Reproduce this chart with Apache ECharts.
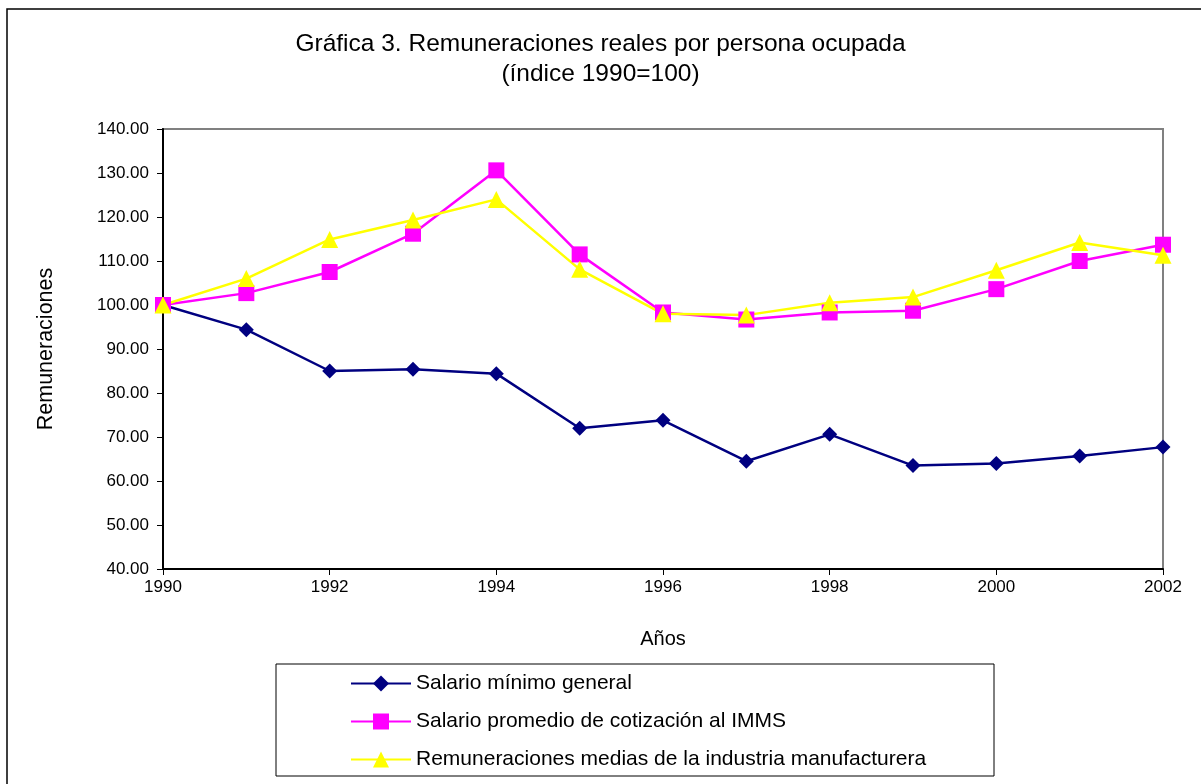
<!DOCTYPE html>
<html>
<head>
<meta charset="utf-8">
<script src="https://cdn.jsdelivr.net/npm/echarts@6/dist/echarts.min.js"></script>
<style>
html,body{margin:0;padding:0;background:#fff;}
#chart{width:1201px;height:784px;}
</style>
</head>
<body>
<div id="chart"></div>
<script>
const years = ['1990','1991','1992','1993','1994','1995','1996','1997','1998','1999','2000','2001','2002'];
const salarioMinimo = [100, 94.4, 85.0, 85.4, 84.4, 72.0, 73.8, 64.5, 70.6, 63.5, 64.0, 65.7, 67.7];
const salarioIMMS = [100, 102.7, 107.5, 116.2, 130.6, 111.5, 98.3, 96.7, 98.3, 98.7, 103.6, 110.0, 113.7];
const remManufactura = [100, 106.0, 114.9, 119.3, 124.0, 108.1, 98.0, 97.7, 100.5, 101.8, 107.9, 114.2, 111.3];
const seriesNames = ['Salario mínimo general', 'Salario promedio de cotización al IMMS', 'Remuneraciones medias de la industria manufacturera'];

const FONT = "'Liberation Sans', Arial, sans-serif";
const chart = echarts.init(document.getElementById('chart'), null, {renderer: 'canvas'});
chart.setOption({
  animation: false,
  backgroundColor: '#ffffff',
  textStyle: {fontFamily: FONT, color: '#000'},
  title: {
    text: 'Gráfica 3. Remuneraciones reales por persona ocupada\n(índice 1990=100)',
    left: 'center',
    top: 24,
    textStyle: {fontFamily: FONT, fontSize: 24.5, lineHeight: 30, fontWeight: 'normal', color: '#000'}
  },
  graphic: [
    {type: 'rect', z: -10, silent: true,
     shape: {x: 7, y: 9, width: 1210, height: 800},
     style: {fill: 'none', stroke: '#000', lineWidth: 1.5}},
    {type: 'rect', z: -5, silent: true,
     shape: {x: 276, y: 664, width: 718, height: 112},
     style: {fill: '#fff', stroke: '#000', lineWidth: 1}}
  ],
  grid: {
    left: 163, top: 129, right: 38, bottom: 215,
    show: true, borderColor: '#808080', borderWidth: 2, backgroundColor: '#fff',
    containLabel: false
  },
  legend: {
    orient: 'vertical',
    left: 350, top: 673, padding: 0,
    itemWidth: 60, itemHeight: 20, itemGap: 17,
    textStyle: {fontFamily: FONT, fontSize: 21, lineHeight: 20, color: '#000'},
    data: seriesNames
  },
  xAxis: {
    type: 'category',
    data: years,
    boundaryGap: false,
    name: 'Años',
    nameLocation: 'middle',
    nameGap: 60,
    nameTextStyle: {fontFamily: FONT, fontSize: 20, color: '#000'},
    axisLine: {lineStyle: {color: '#000', width: 2}},
    axisTick: {show: true, interval: 1, length: 6, inside: false, lineStyle: {color: '#000', width: 1}},
    axisLabel: {interval: 1, margin: 10, fontFamily: FONT, fontSize: 17, color: '#000'},
    splitLine: {show: false}
  },
  yAxis: {
    type: 'value',
    min: 40, max: 140, interval: 10,
    name: 'Remuneraciones',
    nameLocation: 'middle',
    nameGap: 106,
    nameTextStyle: {fontFamily: FONT, fontSize: 21.5, color: '#000'},
    axisLine: {show: true, lineStyle: {color: '#000', width: 2}},
    axisTick: {show: true, length: 6, inside: false, lineStyle: {color: '#000', width: 1}},
    axisLabel: {margin: 14, fontFamily: FONT, fontSize: 17, color: '#000',
                formatter: v => v.toFixed(2)},
    splitLine: {show: false}
  },
  series: [
    {name: seriesNames[0], type: 'line', data: salarioMinimo,
     symbol: 'diamond', symbolSize: 15,
     lineStyle: {color: '#000080', width: 2.5},
     itemStyle: {color: '#000080'}},
    {name: seriesNames[1], type: 'line', data: salarioIMMS,
     symbol: 'rect', symbolSize: 16,
     lineStyle: {color: '#FF00FF', width: 2.5},
     itemStyle: {color: '#FF00FF'}},
    {name: seriesNames[2], type: 'line', data: remManufactura,
     symbol: 'triangle', symbolSize: 17,
     lineStyle: {color: '#FFFF00', width: 2.5},
     itemStyle: {color: '#FFFF00'}}
  ]
});
</script>
</body>
</html>
